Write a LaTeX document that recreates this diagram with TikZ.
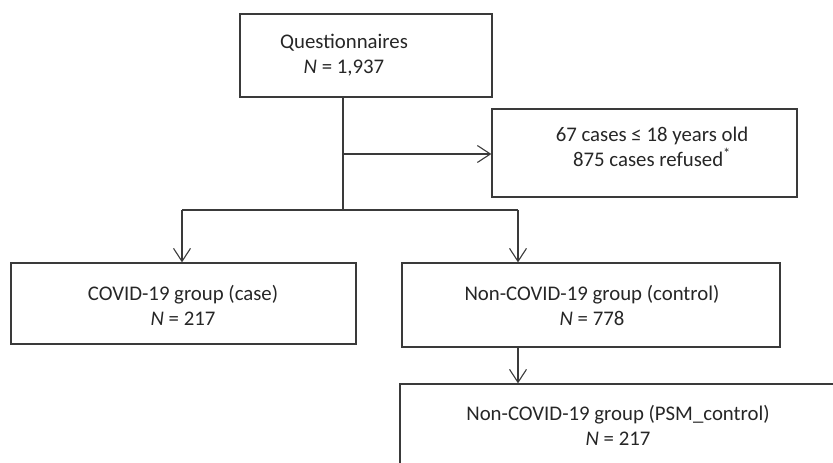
\documentclass[tikz,border=0pt]{standalone}
\usepackage{fontspec}
\setmainfont{Carlito}
\usetikzlibrary{arrows.meta}
\definecolor{ln}{HTML}{3A3A3A}
\definecolor{tx}{HTML}{262626}
\tikzset{
  box/.style={draw=ln, line width=1.3pt, inner sep=0pt},
  lbl/.style={text=tx, align=center, font=\fontsize{20.8}{25}\selectfont, inner sep=0pt},
  conn/.style={draw=ln, line width=1.3pt},
  arr/.style={conn, -{Straight Barb[length=13pt,width=17pt,line width=1.1pt]}}
}
\begin{document}
\begin{tikzpicture}[x=1pt,y=-1pt]
\useasboundingbox (0,0) rectangle (833,463);
\begin{scope}
\clip (0,0) rectangle (833,463);
% boxes
\node[box, minimum width=252pt, minimum height=83pt] (q) at (366,55.5) {};
\node[box, minimum width=305pt, minimum height=88pt] (side) at (644.5,153) {};
\node[box, minimum width=345pt, minimum height=81pt] (case) at (183.5,303.5) {};
\node[box, minimum width=378pt, minimum height=84pt] (ctrl) at (591,305) {};
\node[box, minimum width=460pt, minimum height=120pt] (psm) at (630,444) {};
\end{scope}
% texts
\node[lbl] (tq) at (344,55) {Questionnaires\\\textit{N} = 1,937};
\node[lbl] (tside) at (652,146.5) {67 cases ≤ 18 years old\\875 cases refused\textsuperscript{*}};
\node[lbl] (tcase) at (183,305) {COVID-19 group (case)\\\textit{N} = 217};
\node[lbl] (tctrl) at (592,305) {Non-COVID-19 group (control)\\\textit{N} = 778};
\node[lbl] (tpsm) at (618,425) {Non-COVID-19 group (PSM\_control)\\\textit{N} = 217};
% connectors
\coordinate (qo) at (343,97);
\coordinate (j1) at (343,154);
\coordinate (j2) at (343,210);
\coordinate (bl) at (182,210);
\coordinate (br) at (518,210);
\path[conn] (qo) -- (j2);
\path[arr] (j1) -- (j1 -| side.west);
\path[conn] (bl) -- (br);
\path[arr] (bl) -- (bl |- case.north);
\path[arr] (br) -- (br |- ctrl.north);
\path[arr] (ctrl.south -| br) -- (br |- psm.north);
\end{tikzpicture}
\end{document}
